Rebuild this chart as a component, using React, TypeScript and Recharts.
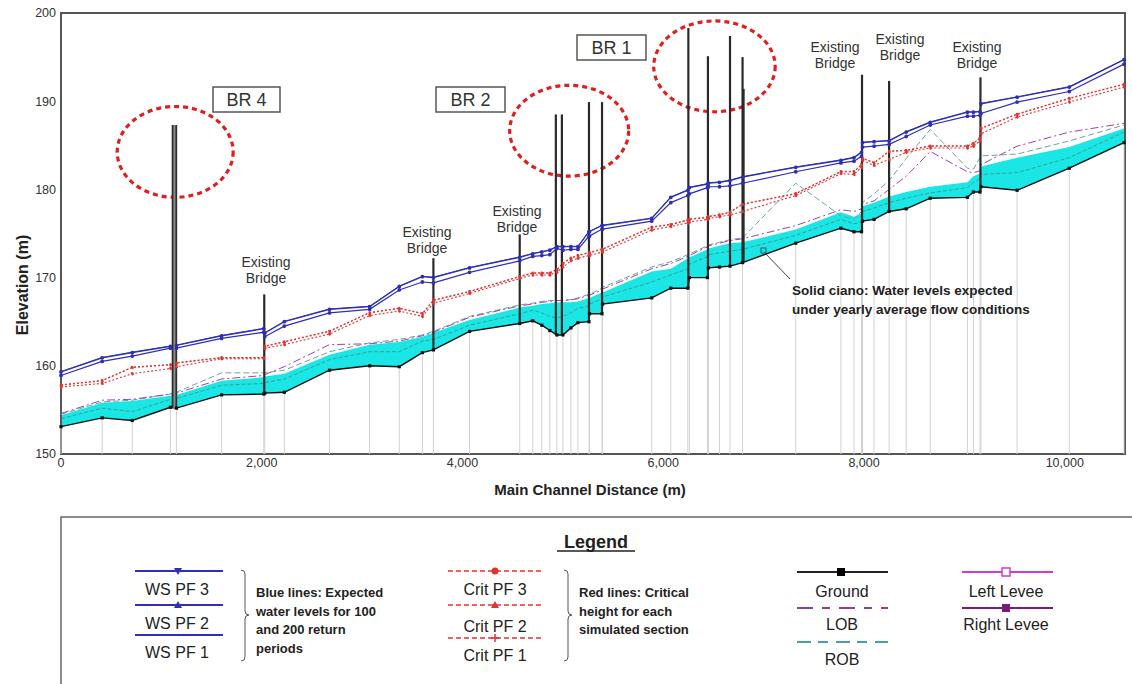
import React from "react";
import {
  Area,
  ComposedChart,
  Line,
  ReferenceArea,
  ReferenceLine,
  XAxis,
  YAxis,
} from "recharts";

// River profile (HEC-RAS style): main channel distance (m) vs elevation (m).
const STATIONS = [
  0, 410, 710, 1090, 1150, 1600, 2020, 2030, 2225, 2675, 3075, 3370, 3600, 3710,
  4070, 4570, 4700, 4790, 4870, 4940, 5000, 5080, 5150, 5260, 5265, 5390, 5395,
  5885, 6075, 6245, 6260, 6440, 6450, 6560, 6665, 6790, 7320, 7770, 7900, 7975,
  7985, 8100, 8250, 8420, 8660, 9030, 9090, 9155, 9165, 9525, 10045, 10590,
];

const GROUND = [
  153.1, 154.1, 153.8, 155.3, 155.2, 156.7, 156.8, 156.9, 157.0, 159.5, 160.0,
  159.9, 161.5, 161.8, 163.9, 164.8, 165.1, 164.6, 164.0, 163.5, 163.5, 164.3,
  164.9, 165.0, 165.9, 165.9, 167.0, 167.7, 168.8, 168.8, 170.0, 170.0, 171.1,
  171.2, 171.3, 171.7, 173.9, 175.6, 175.2, 175.2, 176.4, 176.6, 177.5, 177.8,
  179.0, 179.1, 179.7, 179.7, 180.3, 179.9, 182.4, 185.3,
];

// yearly average flow water level (top of the cyan band)
const YEARLY = [
  154.4, 155.8, 156.0, 156.6, 156.7, 158.3, 158.7, 158.8, 159.1, 161.25, 162.4,
  162.7, 163.3, 163.75, 165.2, 166.6, 166.8, 167.0, 167.1, 167.2, 167.2, 167.2,
  167.3, 167.7, 167.7, 168.3, 168.3, 170.7, 171.0, 172.2, 172.3, 173.2, 173.3,
  173.6, 173.9, 174.0, 175.45, 177.4, 176.9, 177.3, 178.1, 178.5, 179.2, 179.7,
  180.3, 180.8, 181.5, 181.8, 182.6, 183.6, 184.8, 186.9,
];

const YEARLY_CRIT = [
  154.0, 155.2, 154.8, 156.2, 156.3, 157.8, 158.0, 158.1, 158.5, 160.7, 161.6,
  161.6, 162.8, 163.0, 164.6, 165.9, 166.3, 166.0, 165.6, 165.4, 165.6, 166.0,
  166.5, 166.8, 167.0, 167.6, 167.8, 169.5, 170.3, 171.0, 171.5, 172.4, 172.6,
  172.8, 173.0, 173.2, 174.8, 176.6, 176.1, 176.3, 177.5, 177.9, 178.5, 179.0,
  179.6, 180.2, 180.8, 181.2, 181.7, 181.9, 183.6, 186.5,
];

const LOB = [
  154.6, 156.1, 156.2, 156.8, 156.9, 158.5, 158.9, 159.0, 159.9, 162.4, 162.5,
  162.8, 163.4, 163.8, 165.5, 166.8, 167.0, 167.2, 167.3, 167.4, 167.4, 167.5,
  167.6, 168.0, 168.0, 168.6, 168.7, 171.0, 171.6, 172.4, 172.5, 173.5, 173.6,
  173.9, 174.2, 174.4, 175.9, 177.7, 177.5, 177.8, 178.3, 178.7, 180.0, 181.5,
  184.3, 182.0, 181.9, 182.1, 182.8, 184.9, 186.5, 187.5,
];

const ROB = [
  154.5, 155.9, 156.1, 156.8, 157.0, 159.2, 159.2, 159.2, 159.5, 161.6, 162.6,
  163.0, 163.5, 163.9, 165.6, 166.9, 167.1, 167.3, 167.4, 167.4, 167.4, 167.5,
  167.7, 168.1, 168.1, 168.8, 168.9, 171.2, 171.8, 172.6, 172.7, 173.6, 173.7,
  174.0, 174.3, 174.5, 180.7, 177.0, 176.6, 177.5, 178.5, 179.5, 181.0, 183.5,
  186.8, 182.4, 182.3, 183.6, 183.8, 184.0, 185.5, 187.3,
];

const WS_PF1 = [
  158.9, 160.5, 161.1, 162.0, 162.0, 163.1, 163.8, 163.3, 164.5, 166.0, 166.4,
  168.6, 169.5, 169.4, 170.6, 171.9, 172.4, 172.5, 172.6, 173.3, 173.1, 173.2,
  173.2, 174.7, 174.7, 175.5, 175.5, 176.4, 178.5, 179.3, 179.5, 180.2, 180.3,
  180.3, 180.4, 180.7, 182.0, 183.0, 183.2, 183.75, 184.8, 184.9, 185.1, 186.0,
  187.3, 188.3, 188.3, 188.4, 188.6, 189.9, 191.1, 194.2,
];

const WS_PF2 = [
  159.3, 160.9, 161.5, 162.2, 162.3, 163.4, 164.2, 163.7, 165.0, 166.4, 166.7,
  169.0, 170.1, 170.0, 171.1, 172.3, 172.7, 172.9, 173.1, 173.5, 173.5, 173.5,
  173.5, 175.2, 175.2, 175.9, 175.9, 176.7, 179.1, 179.9, 180.2, 180.6, 180.7,
  180.8, 181.0, 181.4, 182.5, 183.3, 183.6, 184.2, 185.3, 185.4, 185.5, 186.5,
  187.6, 188.75, 188.75, 188.8, 189.7, 190.45, 191.6, 194.7,
];

const WS_PF3 = [
  159.35, 160.95, 161.55, 162.25, 162.35, 163.45, 164.25, 163.75, 165.05, 166.45,
  166.75, 169.05, 170.15, 170.05, 171.15, 172.35, 172.75, 172.95, 173.15, 173.55,
  173.55, 173.55, 173.55, 175.25, 175.25, 175.95, 175.95, 176.75, 179.15, 179.95,
  180.25, 180.65, 180.75, 180.85, 181.05, 181.45, 182.55, 183.35, 183.65, 184.25,
  185.35, 185.45, 185.55, 186.55, 187.65, 188.8, 188.8, 188.85, 189.75, 190.5,
  191.65, 194.75,
];

const CRIT_PF1 = [
  157.6, 158.0, 159.1, 159.7, 159.9, 160.8, 160.8, 162.0, 162.4, 163.6, 165.7,
  166.2, 165.6, 167.1, 168.2, 169.9, 170.3, 170.3, 170.3, 170.6, 171.2, 171.9,
  172.2, 172.5, 172.5, 172.9, 172.9, 175.4, 175.8, 176.2, 176.3, 176.6, 176.7,
  176.9, 177.1, 177.5, 179.3, 181.8, 181.7, 182.5, 183.3, 182.7, 183.4, 184.2,
  184.7, 184.7, 184.9, 185.5, 186.3, 188.2, 189.9, 191.6,
];

const CRIT_PF2 = [
  157.8, 158.3, 159.8, 160.1, 160.3, 160.9, 160.9, 162.2, 162.7, 163.9, 166.0,
  166.5, 165.9, 167.4, 168.4, 170.1, 170.5, 170.5, 170.5, 170.9, 171.6, 172.2,
  172.5, 172.8, 172.8, 173.2, 173.2, 175.7, 176.0, 176.5, 176.6, 176.8, 176.9,
  177.1, 177.4, 178.3, 179.5, 182.0, 182.0, 182.8, 183.5, 183.0, 184.3, 184.4,
  184.9, 184.9, 185.2, 185.8, 186.9, 188.5, 190.3, 191.9,
];

const CRIT_PF3 = [
  157.85, 158.35, 159.85, 160.15, 160.35, 160.95, 160.95, 162.25, 162.75, 163.95,
  166.05, 166.55, 165.95, 167.45, 168.45, 170.15, 170.55, 170.55, 170.55, 170.95,
  171.65, 172.25, 172.55, 172.85, 172.85, 173.25, 173.25, 175.75, 176.05, 176.55,
  176.65, 176.85, 176.95, 177.15, 177.45, 178.35, 179.55, 182.05, 182.05, 182.85,
  183.55, 183.05, 184.35, 184.45, 184.95, 184.95, 185.25, 185.85, 186.95, 188.55,
  190.35, 191.95,
];

// bridge decks drawn as vertical members: station, low and top elevation
const BRIDGE_ST = [1130, 2025, 3710, 4570, 4930, 4990, 5260, 5390, 6250, 6445, 6665, 6790, 6800, 7980, 8250, 9160];
const BRIDGE_LOW = [155.2, 156.9, 161.8, 164.8, 163.5, 163.5, 165.0, 166.0, 168.8, 170.0, 171.3, 171.7, 171.7, 175.2, 177.5, 179.7];
const BRIDGE_TOP = [187.3, 168.1, 172.2, 174.9, 188.5, 188.5, 189.9, 189.9, 198.3, 195.1, 197.4, 195.0, 191.4, 193.0, 192.3, 192.7];

// red dashed rings around the new bridges (BR 4, BR 2, BR 1)
const RING_X1 = [560, 4470, 5905];
const RING_X2 = [1715, 5655, 7115];
const RING_Y1 = [179.1, 181.5, 188.8];
const RING_Y2 = [189.4, 191.8, 199.1];

const X_TICKS = [0, 2000, 4000, 6000, 8000, 10000];
const Y_TICKS = [150, 160, 170, 180, 190, 200];

const FONT = "Arial, 'Liberation Sans', Helvetica, sans-serif";
const BLUE = "#2f2fb4";
const RED = "#e23232";
const THICK_BRIDGE = 1130;

const rows = STATIONS.map((st, i) => ({
  st,
  ground: GROUND[i],
  band: [GROUND[i], YEARLY[i]],
  yearlyCrit: YEARLY_CRIT[i],
  lob: LOB[i],
  rob: ROB[i],
  ws1: WS_PF1[i],
  ws2: WS_PF2[i],
  ws3: WS_PF3[i],
  crit1: CRIT_PF1[i],
  crit2: CRIT_PF2[i],
  crit3: CRIT_PF3[i],
}));

function SquareDot(props: any) {
  const { cx, cy, index } = props;
  if (cx == null || cy == null) return <g key={index} />;
  return <rect key={index} x={cx - 1.6} y={cy - 1.6} width={3.2} height={3.2} fill="#111" />;
}

function ring(p: any) {
  return (
    <ellipse
      cx={p.x + p.width / 2}
      cy={p.y + p.height / 2}
      rx={p.width / 2}
      ry={p.height / 2}
      fill="none"
      stroke="#e11d1d"
      strokeWidth={3.2}
      strokeDasharray="5 4"
    />
  );
}

const tickStyle = { fontSize: 12.5, fill: "#333", fontFamily: FONT };

function Legend() {
  const tri = (x: number, y: number, down: boolean, c: string) =>
    down ? (
      <polygon points={`${x - 4},${y - 3} ${x + 4},${y - 3} ${x},${y + 4}`} fill={c} />
    ) : (
      <polygon points={`${x - 4},${y + 3} ${x + 4},${y + 3} ${x},${y - 4}`} fill={c} />
    );
  const label = { fontSize: 16, fill: "#222", fontFamily: FONT, textAnchor: "middle" as const };
  const note = { fontSize: 13, fill: "#222", fontFamily: FONT, fontWeight: 700 };
  const bracket = (x: number) => (
    <path
      d={`M${x - 4},570 Q${x},570 ${x},574 L${x},611 Q${x},615 ${x + 4},615 Q${x},615 ${x},619 L${x},657 Q${x},661 ${x - 4},661`}
      fill="none"
      stroke="#555"
      strokeWidth={1}
    />
  );
  return (
    <g>
      <rect x={61} y={517} width={1100} height={200} fill="none" stroke="#666" strokeWidth={1.5} />
      <text x={596} y={548} fontSize={18} fontWeight={700} fontFamily={FONT} textAnchor="middle" fill="#222">
        Legend
      </text>
      <line x1={557} x2={635} y1={551} y2={551} stroke="#222" strokeWidth={1.3} />

      <line x1={135} x2={223} y1={571} y2={571} stroke={BLUE} strokeWidth={2} />
      {tri(178, 571, true, BLUE)}
      <text x={177} y={595} {...label}>WS PF 3</text>
      <line x1={135} x2={223} y1={605} y2={605} stroke={BLUE} strokeWidth={2} />
      {tri(178, 605, false, BLUE)}
      <text x={177} y={629} {...label}>WS PF 2</text>
      <line x1={135} x2={223} y1={635} y2={635} stroke={BLUE} strokeWidth={2} />
      <text x={177} y={658} {...label}>WS PF 1</text>
      {bracket(245)}
      <text x={256} y={597} {...note}>Blue lines:  Expected</text>
      <text x={256} y={616} {...note}>water levels for 100</text>
      <text x={256} y={634} {...note}>and 200 return</text>
      <text x={256} y={653} {...note}>periods</text>

      <line x1={448} x2={543} y1={571} y2={571} stroke={RED} strokeWidth={1.5} strokeDasharray="5 3" />
      <circle cx={495} cy={571} r={3.5} fill={RED} />
      <text x={495} y={595} {...label}>Crit PF 3</text>
      <line x1={448} x2={543} y1={605} y2={605} stroke={RED} strokeWidth={1.5} strokeDasharray="5 3" />
      {tri(495, 605, false, RED)}
      <text x={495} y={632} {...label}>Crit PF 2</text>
      <line x1={448} x2={543} y1={638} y2={638} stroke={RED} strokeWidth={1.5} strokeDasharray="5 3" />
      <path d="M491,638 H499 M495,634 V642" stroke={RED} strokeWidth={1.5} />
      <text x={495} y={661} {...label}>Crit PF 1</text>
      {bracket(568)}
      <text x={579} y={597} {...note}>Red lines: Critical</text>
      <text x={579} y={616} {...note}>height for each</text>
      <text x={579} y={634} {...note}>simulated section</text>

      <line x1={797} x2={888} y1={572} y2={572} stroke="#222" strokeWidth={1.8} />
      <rect x={837} y={568} width={8} height={8} fill="#000" />
      <text x={842} y={597} {...label}>Ground</text>
      <line x1={797} x2={888} y1={608} y2={608} stroke="#8e3d9a" strokeWidth={1.8} strokeDasharray="16 9 8 9" />
      <text x={842} y={630} {...label}>LOB</text>
      <line x1={797} x2={888} y1={642} y2={642} stroke="#4f9c9c" strokeWidth={1.8} strokeDasharray="14 7 10 8" />
      <text x={842} y={665} {...label}>ROB</text>

      <line x1={962} x2={1053} y1={572} y2={572} stroke="#d23ad2" strokeWidth={1.8} />
      <rect x={1002} y={568} width={8} height={8} fill="#fff" stroke="#d23ad2" strokeWidth={1.5} />
      <text x={1006} y={597} {...label}>Left Levee</text>
      <line x1={962} x2={1053} y1={608} y2={608} stroke="#7a1a7a" strokeWidth={1.8} />
      <rect x={1002} y={604} width={8} height={8} fill="#7a1a7a" />
      <text x={1006} y={630} {...label}>Right Levee</text>
    </g>
  );
}

function Annotations() {
  const bridgeText = { fontSize: 14, fill: "#333", fontFamily: FONT, textAnchor: "middle" as const };
  const existing = [
    [266, 267],
    [427, 237],
    [517, 216],
    [835, 52],
    [900, 44],
    [977, 52],
  ];
  const boxes: Array<[number, number, number, string]> = [
    [213, 87, 67, "BR 4"],
    [436, 87, 69, "BR 2"],
    [577, 35, 69, "BR 1"],
  ];
  return (
    <g>
      {boxes.map(([x, y, w, t]) => (
        <g key={t}>
          <rect x={x} y={y} width={w} height={25} fill="#fff" stroke="#555" strokeWidth={1.5} />
          <text x={x + w / 2} y={y + 19} fontSize={18} fontFamily={FONT} fill="#333" textAnchor="middle">
            {t}
          </text>
        </g>
      ))}
      {existing.map(([x, y], i) => (
        <g key={i}>
          <text x={x} y={y} {...bridgeText}>Existing</text>
          <text x={x} y={y + 16} {...bridgeText}>Bridge</text>
        </g>
      ))}
      <line x1={790} y1={279} x2={764} y2={252} stroke="#444" strokeWidth={1} />
      <rect x={761} y={248} width={5} height={5} fill="#1de5e5" stroke="#333" strokeWidth={0.8} />
      <text x={792} y={295} fontSize={13.5} fontWeight={700} fontFamily={FONT} fill="#222">
        Solid ciano: Water levels expected
      </text>
      <text x={792} y={314} fontSize={13.5} fontWeight={700} fontFamily={FONT} fill="#222">
        under yearly average flow conditions
      </text>
      <text
        x={28}
        y={285}
        fontSize={16}
        fontWeight={700}
        fontFamily={FONT}
        fill="#222"
        textAnchor="middle"
        transform="rotate(-90 28 285)"
      >
        Elevation (m)
      </text>
      <text x={590} y={495} fontSize={15} fontWeight={700} fontFamily={FONT} fill="#222" textAnchor="middle">
        Main Channel Distance (m)
      </text>
    </g>
  );
}

export default function App() {
  return (
    <div
      style={{
        position: "absolute",
        left: 0,
        top: 0,
        width: 1132,
        height: 684,
        overflow: "hidden",
        background: "#fff",
      }}
    >
      <ComposedChart width={1132} height={504} data={rows} margin={{ top: 13, right: 7, left: 0, bottom: 0 }}>
        <XAxis
          dataKey="st"
          type="number"
          domain={[0, 10600]}
          ticks={X_TICKS}
          interval={0}
          tickFormatter={(v: number) => v.toLocaleString("en-US")}
          tick={tickStyle}
          tickSize={0}
          tickMargin={4}
          axisLine={false}
          height={50}
        />
        <YAxis
          type="number"
          domain={[150, 200]}
          ticks={Y_TICKS}
          interval={0}
          tick={tickStyle}
          tickSize={0}
          tickMargin={5}
          axisLine={false}
          width={61}
        />
        {STATIONS.map((st, i) => (
          <ReferenceLine
            key={`xs-${i}`}
            segment={[
              { x: st, y: 150 },
              { x: st, y: GROUND[i] },
            ]}
            stroke="#d2d2d2"
            strokeWidth={1}
          />
        ))}
        <Area
          dataKey="band"
          type="linear"
          stroke="none"
          fill="#1be6e6"
          fillOpacity={1}
          isAnimationActive={false}
        />
        <Line dataKey="yearlyCrit" type="linear" stroke="#3f8f78" strokeWidth={0.8} strokeDasharray="4 2" dot={false} isAnimationActive={false} />
        <Line dataKey="rob" name="ROB" type="linear" stroke="#6aa3a3" strokeWidth={1} strokeDasharray="6 3" dot={false} isAnimationActive={false} />
        <Line dataKey="lob" name="LOB" type="linear" stroke="#9a45aa" strokeWidth={1} strokeDasharray="8 3 2 3" dot={false} isAnimationActive={false} />
        <Line dataKey="ground" name="Ground" type="linear" stroke="#111" strokeWidth={1.4} dot={SquareDot} isAnimationActive={false} />
        <Line dataKey="crit1" name="Crit PF 1" type="linear" stroke={RED} strokeWidth={1.1} strokeDasharray="2 2" dot={{ r: 1.2, fill: RED, stroke: RED }} isAnimationActive={false} />
        <Line dataKey="crit2" name="Crit PF 2" type="linear" stroke={RED} strokeWidth={1.1} strokeDasharray="2 2" dot={{ r: 1.2, fill: RED, stroke: RED }} isAnimationActive={false} />
        <Line dataKey="crit3" name="Crit PF 3" type="linear" stroke={RED} strokeWidth={1} strokeDasharray="2 2" dot={false} isAnimationActive={false} />
        <Line dataKey="ws1" name="WS PF 1" type="linear" stroke={BLUE} strokeWidth={1.2} dot={{ r: 1.3, fill: BLUE, stroke: BLUE }} isAnimationActive={false} />
        <Line dataKey="ws2" name="WS PF 2" type="linear" stroke={BLUE} strokeWidth={1.2} dot={{ r: 1.3, fill: BLUE, stroke: BLUE }} isAnimationActive={false} />
        <Line dataKey="ws3" name="WS PF 3" type="linear" stroke={BLUE} strokeWidth={1} dot={false} isAnimationActive={false} />
        {BRIDGE_ST.map((st, i) => (
          <ReferenceLine
            key={`br-${i}`}
            segment={[
              { x: st, y: BRIDGE_LOW[i] },
              { x: st, y: BRIDGE_TOP[i] },
            ]}
            stroke={st === THICK_BRIDGE ? "#2e2e2e" : "#2a2a2a"}
            strokeWidth={st === THICK_BRIDGE ? 5.5 : 2.2}
          />
        ))}
        <ReferenceLine
          segment={[
            { x: THICK_BRIDGE, y: BRIDGE_LOW[0] },
            { x: THICK_BRIDGE, y: BRIDGE_TOP[0] },
          ]}
          stroke="#8c8c8c"
          strokeWidth={2}
        />
        {RING_X1.map((x1, i) => (
          <ReferenceArea
            key={`ring-${i}`}
            x1={x1}
            x2={RING_X2[i]}
            y1={RING_Y1[i]}
            y2={RING_Y2[i]}
            shape={ring}
          />
        ))}
        <ReferenceArea x1={0} x2={10600} y1={150} y2={200} fill="none" stroke="#555" strokeWidth={2} />
      </ComposedChart>
      <svg
        width={1132}
        height={684}
        style={{ position: "absolute", left: 0, top: 0, pointerEvents: "none" }}
      >
        <Annotations />
        <Legend />
      </svg>
    </div>
  );
}
